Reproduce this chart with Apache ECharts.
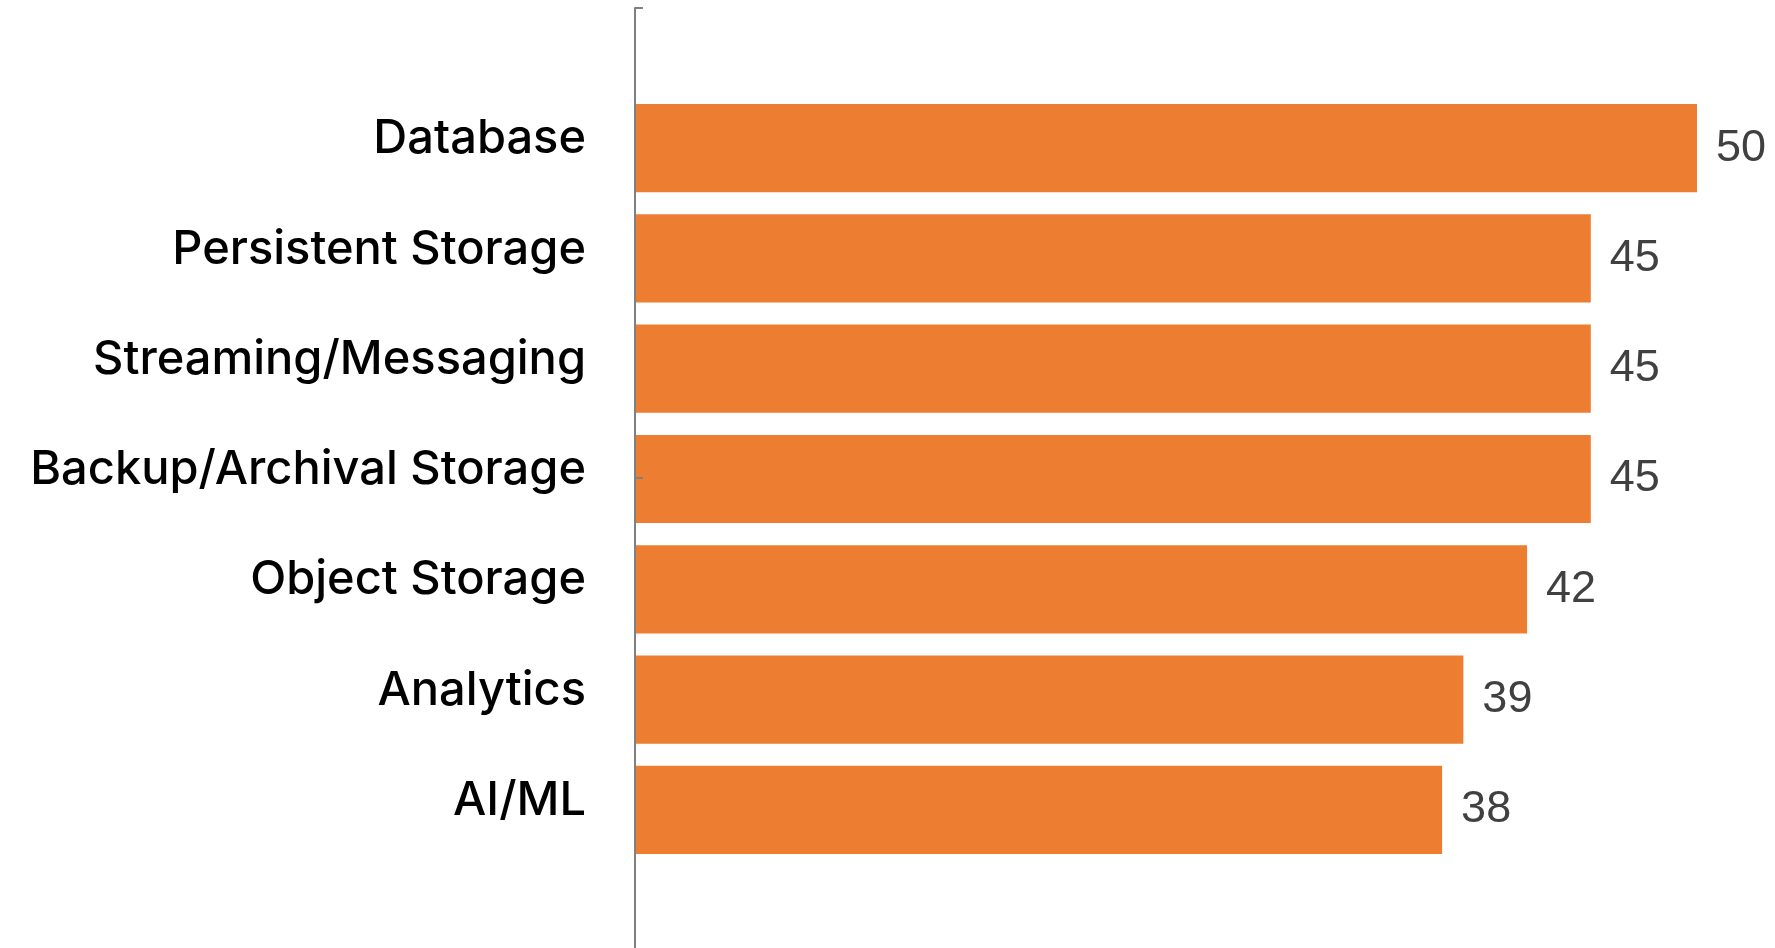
<!DOCTYPE html>
<html>
<head>
<meta charset="utf-8">
<script src="https://cdn.jsdelivr.net/npm/echarts@6/dist/echarts.min.js"></script>
<style>
html,body{margin:0;padding:0;background:#fff;}
#chart{width:1775px;height:948px;}
</style>
</head>
<body>
<div id="chart"></div>
<script>
const categories = ['Database','Persistent Storage','Streaming/Messaging','Backup/Archival Storage','Object Storage','Analytics','AI/ML'];
const values = [50,45,45,45,42,39,38];

const chart = echarts.init(document.getElementById('chart'), null, {renderer:'canvas'});
chart.setOption({
  animation:false,
  backgroundColor:'#ffffff',
  grid:[
    {left:635, right:78, top:93, bottom:83, containLabel:false},
    {left:635, right:78, top:8, bottom:0, containLabel:false}
  ],
  xAxis:[
    {gridIndex:0, type:'value', min:0, max:50, show:false},
    {gridIndex:1, type:'value', min:0, max:1, show:false}
  ],
  yAxis:[
    {gridIndex:0, type:'category', data:categories, inverse:true,
     axisLine:{show:false}, axisTick:{show:false},
     axisLabel:{margin:49, formatter: v => '{a|' + v + '}\n{b|}',
       rich:{a:{fontFamily:'Inter', fontWeight:500, fontSize:47, color:'#000', lineHeight:56},
             b:{fontSize:1, lineHeight:18}}}},
    {gridIndex:1, type:'value', min:0, max:2, interval:1, z:10,
     axisLine:{show:true, lineStyle:{color:'#808080', width:2}},
     axisTick:{show:true, inside:true, length:8, customValues:[1,2], lineStyle:{color:'#808080', width:2}},
     axisLabel:{show:false}, splitLine:{show:false}}
  ],
  series:[{
    type:'bar', xAxisIndex:0, yAxisIndex:0, data:values,
    barCategoryGap:'20%',
    itemStyle:{color:'#ED7D31'},
    label:{show:true, position:'right', distance:19, fontFamily:'Liberation Sans', fontSize:45, color:'#404040'}
  }]
});
</script>
</body>
</html>
